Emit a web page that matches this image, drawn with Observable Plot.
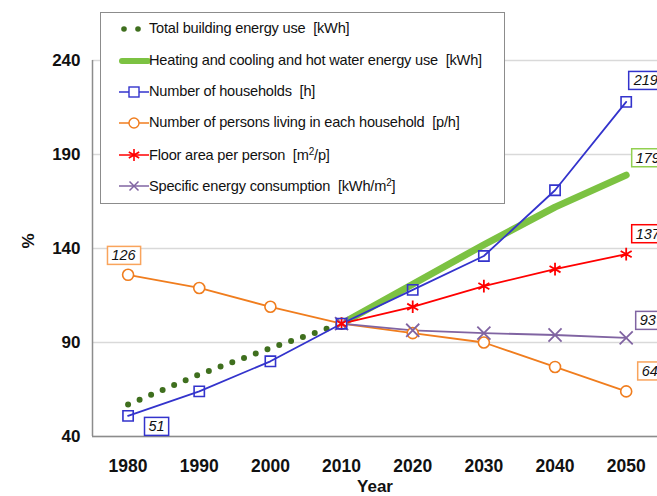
<!DOCTYPE html>
<html><head><meta charset="utf-8">
<script src="https://cdn.jsdelivr.net/npm/d3@7"></script>
<script src="https://cdn.jsdelivr.net/npm/@observablehq/plot@0.6"></script>
<style>
body{margin:0;background:#fff;font-family:"Liberation Sans",Arial,sans-serif;}
#wrap{position:relative;width:657px;height:496px;overflow:hidden;}
#legend{position:absolute;left:100px;top:12px;width:405px;height:192px;border:1px solid #8c8c8c;background:#fff;box-sizing:border-box;}
.row{position:absolute;left:0;height:20px;font-size:14.6px;letter-spacing:-0.2px;color:#111;white-space:nowrap;}
.row svg{position:absolute;left:18px;top:0;}
.row span{position:absolute;left:48px;top:1px;}
</style></head>
<body><div id="wrap"><div id="legend"></div></div>
<script>
const years = [1980, 1990, 2000, 2010, 2020, 2030, 2040, 2050];
const totalEnergy = [57, 73, 87, 100];            // 1980–2010
const heatingCoolingHW = [100, 121, 142, 162, 179]; // 2010–2050
const households = [51, 64, 80, 100, 118, 136, 171, 218];
const personsPerHousehold = [126, 119, 109, 100, 95, 90, 77, 64];
const floorAreaPerPerson = [100, 109, 120, 129, 137]; // 2010–2050
const specificEnergy = [100, 96.5, 95, 94, 92.5];     // 2010–2050
const yTicks = [40, 90, 140, 190, 240];
const seriesNames = ["Total building energy use  [kWh]", "Heating and cooling and hot water energy use  [kWh]", "Number of households  [h]", "Number of persons living in each household  [p/h]", "Floor area per person  [m²/p]", "Specific energy consumption  [kWh/m²]"];
const labelTexts = ["126", "51", "219", "179", "137", "93", "64"];

const C = {dots:"#3F6F1E", green:"#7CC242", blue:"#3333CC", orange:"#F07D1E", red:"#FF0000", purple:"#8064A2"};

const tot = totalEnergy.map((v,i)=>({x:years[i], y:v}));
const hc = heatingCoolingHW.map((v,i)=>({x:years[i+3], y:v}));
const hh = households.map((v,i)=>({x:years[i], y:v}));
const pp = personsPerHousehold.map((v,i)=>({x:years[i], y:v}));
const fa = floorAreaPerPerson.map((v,i)=>({x:years[i+3], y:v}));
const se = specificEnergy.map((v,i)=>({x:years[i+3], y:v}));

const labels = [
  {x:1980, y:personsPerHousehold[0], t:labelTexts[0], c:"#F9A45C", dx:-4, dy:-19, a:"middle"},
  {x:1980, y:households[0], t:labelTexts[1], c:C.blue, dx:29, dy:11, a:"middle"},
  {x:2050, y:households[7], t:labelTexts[2], c:C.blue, dx:8, dy:-21, a:"start"},
  {x:2050, y:heatingCoolingHW[4], t:labelTexts[3], c:"#92D050", dx:10, dy:-17, a:"start"},
  {x:2050, y:floorAreaPerPerson[4], t:labelTexts[4], c:C.red, dx:10, dy:-20, a:"start"},
  {x:2050, y:specificEnergy[4], t:labelTexts[5], c:C.purple, dx:14, dy:-17, a:"start"},
  {x:2050, y:personsPerHousehold[7], t:labelTexts[6], c:"#F9A45C", dx:16, dy:-20, a:"start"}
];

const chart = Plot.plot({
  width: 657, height: 496,
  marginLeft: 92, marginRight: 0, marginTop: 60, marginBottom: 60,
  style: {fontFamily: "Liberation Sans, Arial, sans-serif", background: "transparent"},
  x: {domain: [1975, 2054.4], ticks: years, tickFormat: d => String(d), label: null},
  y: {domain: [40, 240], ticks: yTicks, label: null},
  marks: [
    Plot.gridY(yTicks, {stroke: "#d9d9d9", strokeOpacity: 1, strokeWidth: 1.5}),
    Plot.ruleX([1975], {stroke: "#8c8c8c", strokeWidth: 1.5}),
    Plot.ruleY([40], {stroke: "#8c8c8c", strokeWidth: 1.5}),
    Plot.axisX({ticks: years, tickFormat: d => String(d), tickSize: 0, tickPadding: 23, fontSize: 17.5, fontWeight: "bold", fill: "#111"}),
    Plot.axisY({ticks: yTicks, tickSize: 0, tickPadding: 12, fontSize: 17, fontWeight: "bold", fill: "#111"}),
    Plot.line(tot, {x:"x", y:"y", stroke: C.dots, strokeWidth: 6, strokeDasharray: "0 12.5", strokeLinecap: "round"}),
    Plot.line(hc, {x:"x", y:"y", stroke: C.green, strokeWidth: 7, strokeLinecap: "round"}),
    Plot.line(pp, {x:"x", y:"y", stroke: C.orange, strokeWidth: 1.8}),
    Plot.line(se, {x:"x", y:"y", stroke: C.purple, strokeWidth: 1.8}),
    Plot.line(fa, {x:"x", y:"y", stroke: C.red, strokeWidth: 1.8}),
    Plot.line(hh, {x:"x", y:"y", stroke: C.blue, strokeWidth: 1.8}),
    Plot.dot(pp, {x:"x", y:"y", symbol: "circle", r: 5.5, stroke: C.orange, fill: "white", strokeWidth: 1.6}),
    Plot.dot(se, {x:"x", y:"y", symbol: "times", r: 6, stroke: C.purple, strokeWidth: 1.8}),
    Plot.dot(fa, {x:"x", y:"y", symbol: "asterisk", r: 6, stroke: C.red, strokeWidth: 1.8}),
    Plot.dot(hh, {x:"x", y:"y", symbol: "square", r: 5.8, stroke: C.blue, fill: "none", strokeWidth: 1.6}),
    Plot.text(labels, {x:"x", y:"y", text:"t", dx:"dx", dy:"dy", textAnchor:"start", fontSize: 14.5, fontStyle: "italic", fill: "#111", className: "vlabel"}),
    Plot.text(["Year"], {frameAnchor: "bottom", dy: 55, fontSize: 17, fontWeight: "bold", fill: "#111"}),
    Plot.text(["%"], {frameAnchor: "left", dx: -64, rotate: -90, fontSize: 17, fontWeight: "bold", fill: "#111"})
  ]
});
document.getElementById("wrap").prepend(chart);

// per-label dx/dy/anchor, then a box around each
const texts = chart.querySelectorAll("g.vlabel text");
texts.forEach((t, i) => {
  const L = labels[i];
  t.setAttribute("text-anchor", L.a);
  const tr = t.getAttribute("transform") || "";
  const m = tr.match(/translate\(([-\d.]+),([-\d.]+)\)/);
  let px = +t.getAttribute("x") || 0, py = +t.getAttribute("y") || 0;
  if (m) { px = +m[1]; py = +m[2]; }
  t.removeAttribute("transform");
  t.setAttribute("x", px + L.dx);
  t.setAttribute("y", py + L.dy);
  t.setAttribute("dy", "0.35em");
  const b = t.getBBox();
  const r = document.createElementNS("http://www.w3.org/2000/svg", "rect");
  r.setAttribute("x", b.x - 4); r.setAttribute("y", b.y - 1);
  r.setAttribute("width", b.width + 8); r.setAttribute("height", b.height + 2);
  r.setAttribute("fill", "white"); r.setAttribute("stroke", L.c); r.setAttribute("stroke-width", 1.5);
  t.parentNode.insertBefore(r, t);
});

// legend
const leg = document.getElementById("legend");
const rowsY = [6, 38, 69, 100, 132, 163];
const sym = [
  `<circle cx="5" cy="10" r="2.8" fill="${C.dots}"/><circle cx="19" cy="10" r="2.8" fill="${C.dots}"/>`,
  `<line x1="3" y1="10" x2="29" y2="10" stroke="${C.green}" stroke-width="6" stroke-linecap="round"/>`,
  `<line x1="0" y1="10" x2="30" y2="10" stroke="${C.blue}" stroke-width="1.5"/><rect x="10" y="5" width="10" height="10" fill="white" stroke="${C.blue}" stroke-width="1.4"/>`,
  `<line x1="0" y1="10" x2="30" y2="10" stroke="${C.orange}" stroke-width="1.5"/><circle cx="15" cy="10" r="5" fill="white" stroke="${C.orange}" stroke-width="1.4"/>`,
  `<line x1="0" y1="10" x2="30" y2="10" stroke="${C.red}" stroke-width="1.5"/><path d="M15,4V16M9.8,7L20.2,13M9.8,13L20.2,7" stroke="${C.red}" stroke-width="1.6"/>`,
  `<line x1="0" y1="10" x2="30" y2="10" stroke="${C.purple}" stroke-width="1.5"/><path d="M10.5,5.5L19.5,14.5M10.5,14.5L19.5,5.5" stroke="${C.purple}" stroke-width="1.5"/>`
];
const names = [
  "Total building energy use&nbsp; [kWh]",
  "Heating and cooling and hot water energy use&nbsp; [kWh]",
  "Number of households&nbsp; [h]",
  "Number of persons living in each household&nbsp; [p/h]",
  "Floor area per person&nbsp; [m<sup style='font-size:10px;vertical-align:5px'>2</sup>/p]",
  "Specific energy consumption&nbsp; [kWh/m<sup style='font-size:10px;vertical-align:5px'>2</sup>]"
];
rowsY.forEach((y, i) => {
  const d = document.createElement("div");
  d.className = "row"; d.style.top = y + "px";
  d.innerHTML = `<svg width="32" height="20">${sym[i]}</svg><span>${names[i]}</span>`;
  leg.appendChild(d);
});
</script></body></html>
